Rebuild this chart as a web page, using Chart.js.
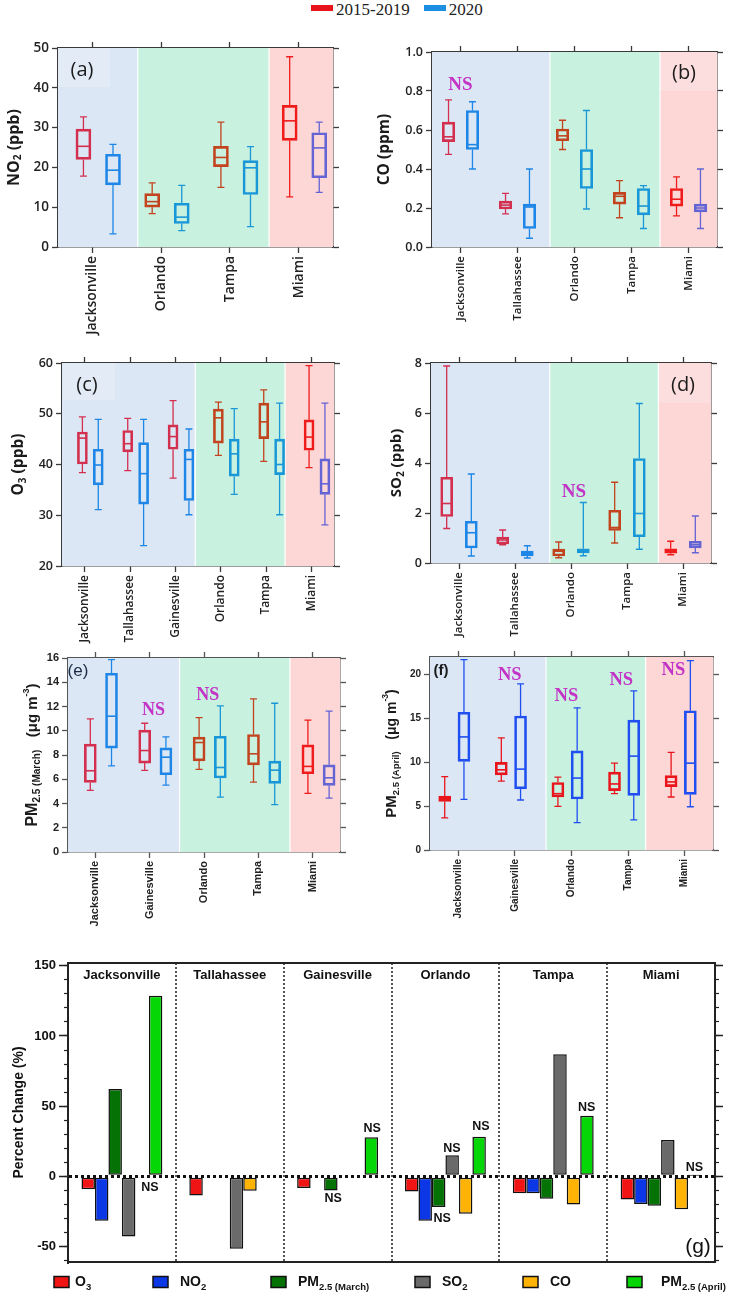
<!DOCTYPE html>
<html>
<head>
<meta charset="utf-8">
<script src="https://cdn.jsdelivr.net/npm/chart.js@4.4.0/dist/chart.umd.min.js"></script>
<style>
  body { margin: 0; background: #fff; width: 734px; height: 1295px; position: relative; overflow: hidden; }
  canvas { position: absolute; }
  #topLegend { position: absolute; left: 311px; top: 1px; font: 17px "Liberation Serif", "Times New Roman", serif; color: #222; white-space: nowrap; line-height: 18px; }
  #topLegend .sw { display: inline-block; width: 22px; height: 6px; vertical-align: 4px; margin-right: 3px; }
  #topLegend .gap { display: inline-block; width: 14px; }
</style>
</head>
<body>
<div id="topLegend"></div>
<script>
// ---- data -------------------------------------------------------------
const seriesNames = ['2015-2019', '2020'];

// five-number summaries per city: [min, q1, median, q3, max]
const citiesA = ['Jacksonville', 'Orlando', 'Tampa', 'Miami'];
const no2Base = [[17.8, 22.0, 25.3, 29.6, 32.7], [8.4, 10.0, 11.4, 13.4, 16.1], [15.0, 20.2, 22.5, 25.3, 31.4], [12.6, 26.8, 31.7, 35.6, 47.8]];
const no2Now  = [[3.3, 15.6, 19.3, 23.3, 25.8], [4.1, 5.9, 7.5, 11.0, 15.5], [5.1, 13.2, 19.9, 21.7, 25.2], [13.7, 17.4, 24.9, 28.7, 31.4]];
const no2Ticks = [0, 10, 20, 30, 40, 50];

const citiesB = ['Jacksonville', 'Tallahassee', 'Orlando', 'Tampa', 'Miami'];
const coBase = [[0.475, 0.54, 0.565, 0.64, 0.755], [0.17, 0.195, 0.215, 0.235, 0.275], [0.50, 0.545, 0.57, 0.605, 0.65], [0.15, 0.22, 0.26, 0.28, 0.34], [0.16, 0.21, 0.245, 0.30, 0.36]];
const coNow  = [[0.40, 0.50, 0.525, 0.70, 0.745], [0.045, 0.095, 0.205, 0.22, 0.40], [0.195, 0.30, 0.40, 0.50, 0.70], [0.095, 0.165, 0.21, 0.30, 0.315], [0.095, 0.18, 0.20, 0.22, 0.40]];
const coTicks = [0, 0.2, 0.4, 0.6, 0.8, 1.0];

const citiesC = ['Jacksonville', 'Tallahassee', 'Gainesville', 'Orlando', 'Tampa', 'Miami'];
const o3Base = [[38.4, 40.1, 45.2, 46.4, 49.4], [38.8, 42.5, 44.1, 46.7, 49.1], [37.3, 43.0, 45.5, 47.8, 52.6], [41.8, 44.2, 49.2, 50.9, 52.3], [40.6, 45.1, 48.4, 52.1, 54.7], [39.4, 42.8, 45.4, 48.8, 59.5]];
const o3Now  = [[31.1, 36.0, 39.9, 43.0, 48.9], [24.0, 32.2, 38.2, 44.3, 48.9], [30.1, 32.9, 41.0, 43.0, 47.0], [34.1, 37.7, 42.1, 45.0, 51.0], [30.1, 38.0, 40.0, 45.0, 52.1], [28.1, 34.1, 36.2, 41.1, 52.1]];
const o3Ticks = [20, 30, 40, 50, 60];

const citiesD = ['Jacksonville', 'Tallahassee', 'Orlando', 'Tampa', 'Miami'];
const so2Base = [[1.38, 1.86, 2.38, 3.43, 7.88], [0.73, 0.76, 0.92, 1.04, 1.32], [0.21, 0.28, 0.47, 0.56, 0.84], [0.80, 1.30, 1.42, 2.11, 3.23], [0.33, 0.39, 0.50, 0.57, 0.87]];
const so2Now  = [[0.28, 0.60, 1.21, 1.67, 3.56], [0.20, 0.28, 0.37, 0.48, 0.69], [0.29, 0.40, 0.49, 0.57, 2.42], [0.55, 1.05, 1.98, 4.18, 6.38], [0.41, 0.60, 0.73, 0.87, 1.88]];
const so2Ticks = [0, 2, 4, 6, 8];

const citiesE = ['Jacksonville', 'Gainesville', 'Orlando', 'Tampa', 'Miami'];
const pmMarBase = [[5.08, 5.74, 6.70, 8.90, 10.98], [6.73, 7.33, 8.37, 10.05, 10.62], [6.81, 7.52, 9.03, 9.47, 11.09], [5.77, 7.19, 8.10, 9.69, 12.63], [4.83, 6.45, 7.06, 8.84, 10.87]];
const pmMarNow  = [[7.11, 8.57, 11.20, 14.74, 15.86], [5.52, 6.37, 7.82, 8.59, 9.50], [4.53, 6.10, 6.97, 9.55, 12.05], [3.90, 5.66, 6.75, 7.50, 12.27], [4.45, 5.49, 6.12, 7.19, 11.62]];
const pmMarTicks = [0, 2, 4, 6, 8, 10, 12, 14, 16];

const citiesF = ['Jacksonville', 'Gainesville', 'Orlando', 'Tampa', 'Miami'];
const pmAprBase = [[3.67, 5.54, 5.85, 6.15, 8.37], [7.84, 8.56, 9.14, 9.98, 12.77], [4.97, 6.04, 6.42, 7.69, 8.30], [6.42, 6.77, 7.53, 8.87, 9.90], [6.04, 7.22, 7.76, 8.48, 11.13]];
const pmAprNow  = [[5.77, 10.1, 12.89, 15.7, 21.7], [5.70, 6.96, 9.22, 15.27, 18.94], [3.13, 5.81, 8.20, 11.3, 16.2], [3.44, 6.23, 10.7, 14.81, 18.13], [4.93, 6.34, 9.90, 15.87, 21.58]];
const pmAprTicks = [0, 5, 10, 15, 20];

// (g) percent change 2020 vs 2015-2019
const citiesG = ['Jacksonville', 'Tallahassee', 'Gainesville', 'Orlando', 'Tampa', 'Miami'];
const pollutants = ['O3', 'NO2', 'PM2.5 (March)', 'SO2', 'CO', 'PM2.5 (April)'];
const o3Change      = [-9.1, -13.6, -8.3, -10.7, -12.1, -16.4];
const no2Change     = [-31.6, null, null, -31.6, -12.1, -19.7];
const pmMarchChange = [62.2, null, -10.0, -21.9, -16.0, -20.9];
const so2Change     = [-42.9, -51.5, null, 15.1, 87.0, 25.9];
const coChange      = [-0.8, -10.2, null, -26.6, -20.0, -23.5];
const pmAprilChange = [128.7, null, 27.8, 28.3, 43.1, 0.4];
const changeTicks = [-50, 0, 50, 100, 150];

// ---- styles ------------------------------------------------------------
const OS = '"Open Sans", "DejaVu Sans", sans-serif';
const AR = '"Liberation Sans", Arial, sans-serif';
const regionFill = ['#dce7f5', '#c8f1e0', '#fdd6d6'];
const redByRegion = ['#d3304f', '#c2441f', '#f01c1c'];
const blueByRegion = ['#1e86e6', '#1a97d6', '#6464d4'];
const nsColor = '#c233c6';

document.getElementById('topLegend').innerHTML =
  '<span class="sw" style="background:#e8141a"></span>' + seriesNames[0] +
  '<span class="gap"></span><span class="sw" style="background:#1a8fe3"></span>' + seriesNames[1];

function drawRich(ctx, parts, x, y, rot, align) {
  ctx.save();
  ctx.translate(x, y);
  ctx.rotate(rot || 0);
  ctx.textBaseline = 'middle';
  ctx.textAlign = 'left';
  let w = 0;
  parts.forEach(p => { ctx.font = p.f; w += ctx.measureText(p.t).width; });
  let cx = align === 'left' ? 0 : -w / 2;
  parts.forEach(p => {
    ctx.font = p.f;
    ctx.fillText(p.t, cx, p.dy || 0);
    cx += ctx.measureText(p.t).width;
  });
  ctx.restore();
}

const boxPlugin = {
  id: 'boxes',
  beforeDatasetsDraw(chart) {
    const p = chart.options.plugins.boxes;
    const { ctx, chartArea: a } = chart;
    const xs = chart.scales.x;
    const edges = [xs.min, ...p.bounds, xs.max];
    ctx.save();
    for (let i = 0; i < edges.length - 1; i++) {
      const x0 = xs.getPixelForValue(edges[i]), x1 = xs.getPixelForValue(edges[i + 1]);
      ctx.fillStyle = regionFill[i];
      ctx.fillRect(x0, a.top, x1 - x0, a.bottom - a.top);
    }
    ctx.fillStyle = '#fff';
    p.bounds.forEach(b => ctx.fillRect(xs.getPixelForValue(b) - 0.6, a.top, 1.2, a.bottom - a.top));
    if (p.hl) {
      ctx.fillStyle = 'rgba(255,255,255,0.2)';
      ctx.fillRect(p.hl[0] - p.off[0], p.hl[1] - p.off[1], p.hl[2] - p.hl[0], p.hl[3] - p.hl[1]);
    }
    ctx.restore();
  },
  afterDatasetsDraw(chart) {
    const p = chart.options.plugins.boxes;
    const { ctx } = chart;
    const ys = chart.scales.y, xs = chart.scales.x;
    const py = v => ys.getPixelForValue(v);
    chart.data.datasets.forEach((ds, di) => {
      chart.getDatasetMeta(di).data.forEach((bar, i) => {
        const [mn, q1, md, q3, mx] = ds.summary[i];
        const x = bar.x, hw = bar.width / 2;
        ctx.save();
        ctx.strokeStyle = bar.options.borderColor;
        ctx.lineWidth = 1.3;
        ctx.beginPath();
        ctx.moveTo(x, py(q3)); ctx.lineTo(x, py(mx));
        ctx.moveTo(x, py(q1)); ctx.lineTo(x, py(mn));
        ctx.moveTo(x - 3.5, py(mx)); ctx.lineTo(x + 3.5, py(mx));
        ctx.moveTo(x - 3.5, py(mn)); ctx.lineTo(x + 3.5, py(mn));
        ctx.stroke();
        ctx.lineWidth = 1.6;
        ctx.beginPath();
        ctx.moveTo(x - hw + 1, py(md)); ctx.lineTo(x + hw - 1, py(md));
        ctx.stroke();
        ctx.restore();
      });
    });
    // NS marks
    ctx.save();
    ctx.fillStyle = nsColor;
    ctx.font = 'bold ' + p.nsSize + 'px "Liberation Serif", "Times New Roman", serif';
    ctx.textAlign = 'center';
    ctx.textBaseline = 'middle';
    p.ns.forEach(([xv, yv]) => ctx.fillText('NS', xs.getPixelForValue(xv), py(yv)));
    ctx.restore();
  },
  afterDraw(chart) {
    const p = chart.options.plugins.boxes;
    const { ctx } = chart;
    ctx.save();
    ctx.fillStyle = '#1b1b1b';
    drawRich(ctx, p.title, p.titleX - p.off[0], p.titleY - p.off[1], -Math.PI / 2);
    ctx.fillStyle = p.labelColor || '#1b1b1b';
    ctx.font = p.labelFont;
    ctx.textAlign = 'center';
    ctx.textBaseline = 'middle';
    ctx.fillText(p.label, p.labelPos[0] - p.off[0], p.labelPos[1] - p.off[1]);
    ctx.restore();
  }
};

function boxPanel(p) {
  const [cl, ct, cw, ch] = p.box;
  const [L, T, R, B] = p.area;
  const cv = document.createElement('canvas');
  cv.width = cw; cv.height = ch;
  cv.style.left = cl + 'px'; cv.style.top = ct + 'px';
  document.body.appendChild(cv);
  const n = p.cities.length;
  const regionOf = x => { let r = 0; while (r < p.bounds.length && x > p.bounds[r]) r++; return r; };
  const mk = (summ, shift, cols, label) => ({
    label,
    summary: summ,
    data: summ.map((s, i) => ({ x: i + shift, y: [s[1], s[3]] })),
    borderColor: summ.map((s, i) => p.fixed ? cols[0] : cols[regionOf(i + shift)]),
    backgroundColor: 'rgba(0,0,0,0)',
    borderWidth: 2,
    borderSkipped: false,
    barThickness: p.boxW,
    grouped: false
  });
  const axisCol = p.axisColor || '#3a3a3a';
  const tickFont = p.tickFont;
  const xTicks = s => { s.ticks = p.cities.map((c, i) => ({ value: i })); };
  const yTicks = s => { s.ticks = p.yTicks.map(v => ({ value: v })); };
  const grid = { drawOnChartArea: false, tickLength: 6, tickColor: axisCol, tickWidth: 1.3, offset: false };
  const border = { color: axisCol, width: 1.5 };
  new Chart(cv, {
    type: 'bar',
    data: {
      datasets: [
        mk(p.base, p.redShift, p.fixed ? [p.fixed[0]] : redByRegion, seriesNames[0]),
        mk(p.now, p.blueShift, p.fixed ? [p.fixed[1]] : blueByRegion, seriesNames[1])
      ]
    },
    options: {
      responsive: false,
      animation: false,
      layout: { padding: { left: 0, top: T - ct - 6, right: cl + cw - R - 6, bottom: 0 } },
      plugins: {
        legend: { display: false },
        tooltip: { enabled: false },
        boxes: {
          bounds: p.bounds, hl: p.hl, off: [cl, ct], ns: p.ns || [], nsSize: p.nsSize || 18,
          title: p.title, titleX: p.titleX, titleY: (T + B) / 2,
          label: p.label, labelPos: p.labelPos, labelFont: p.labelFont, labelColor: p.labelColor
        }
      },
      scales: {
        x: {
          type: 'linear', position: 'bottom', min: -0.5, max: n - 0.5, offset: false,
          afterBuildTicks: xTicks,
          afterFit: s => { s.height = ct + ch - B; },
          ticks: { autoSkip: false, minRotation: 90, maxRotation: 90, padding: 3, color: '#222', font: p.xFont,
                   callback: (v, i) => p.cities[i] },
          grid, border
        },
        x2: {
          type: 'linear', position: 'top', min: -0.5, max: n - 0.5, offset: false,
          afterBuildTicks: xTicks,
          afterFit: s => { s.height = 6; },
          ticks: { display: false },
          grid, border
        },
        y: {
          type: 'linear', position: 'left', min: p.yRange[0], max: p.yRange[1],
          afterBuildTicks: yTicks,
          afterFit: s => { s.width = L - cl; },
          ticks: { padding: 3, color: '#222', font: tickFont, callback: v => p.fmt ? p.fmt(v) : v },
          grid, border
        },
        y2: {
          type: 'linear', position: 'right', min: p.yRange[0], max: p.yRange[1],
          afterBuildTicks: yTicks,
          afterFit: s => { s.width = 6; },
          ticks: { display: false },
          grid, border
        }
      }
    },
    plugins: [boxPlugin]
  });
}

const tf = (w, s, fam) => ({ family: fam, size: s, weight: w });
const sub = (t, size, fam, dy) => ({ t, f: 'bold ' + size + 'px ' + fam, dy });

boxPanel({
  box: [0, 30, 367, 315], area: [58, 48, 333, 247],
  cities: citiesA, base: no2Base, now: no2Now, yTicks: no2Ticks, yRange: [0, 50],
  redShift: -0.13, blueShift: 0.30, boxW: 15, bounds: [0.66, 2.57],
  tickFont: tf('600', 13.5, OS), xFont: tf('600', 14, OS),
  title: [sub('NO', 16, OS), sub('2', 10, OS, 4), sub(' (ppb)', 16, OS)], titleX: 14,
  label: '(a)', labelPos: [82, 70], labelFont: '20px ' + OS, hl: [58, 48, 110, 87]
});
boxPanel({
  box: [367, 30, 367, 315], area: [432, 52, 717, 247],
  cities: citiesB, base: coBase, now: coNow, yTicks: coTicks, yRange: [0, 1], fmt: v => v.toFixed(1),
  redShift: -0.21, blueShift: 0.21, boxW: 12.5, bounds: [1.57, 3.5],
  tickFont: tf('600', 12.5, OS), xFont: tf('600', 11.5, OS),
  title: [sub('CO (ppm)', 15.5, OS)], titleX: 385,
  label: '(b)', labelPos: [684, 73], labelFont: '20px ' + OS, hl: [660, 52, 717, 91],
  ns: [[0, 0.83]], nsSize: 19
});
boxPanel({
  box: [0, 345, 367, 305], area: [62, 363, 334, 566],
  cities: citiesC, base: o3Base, now: o3Now, yTicks: o3Ticks, yRange: [20, 60],
  redShift: -0.05, blueShift: 0.30, boxW: 10, bounds: [2.44, 4.42],
  tickFont: tf('600', 12.5, OS), xFont: tf('600', 12, OS),
  title: [sub('O', 15.5, OS), sub('3', 10, OS, 4), sub(' (ppb)', 15.5, OS)], titleX: 19,
  label: '(c)', labelPos: [87, 385], labelFont: '20px ' + OS, hl: [63, 363, 115, 400]
});
boxPanel({
  box: [367, 345, 367, 305], area: [431, 363, 711, 563],
  cities: citiesD, base: so2Base, now: so2Now, yTicks: so2Ticks, yRange: [0, 8],
  redShift: -0.22, blueShift: 0.22, boxW: 12, bounds: [1.62, 3.56],
  tickFont: tf('600', 12.5, OS), xFont: tf('600', 11.5, OS),
  title: [sub('SO', 15, OS), sub('2', 10, OS, 4), sub(' (ppb)', 15, OS)], titleX: 397,
  label: '(d)', labelPos: [683, 385], labelFont: '20px ' + OS, hl: [658, 363, 710, 403],
  ns: [[2.05, 2.85]], nsSize: 19
});
boxPanel({
  box: [0, 640, 367, 315], area: [68, 658, 340, 852],
  cities: citiesE, base: pmMarBase, now: pmMarNow, yTicks: pmMarTicks, yRange: [0, 16],
  redShift: -0.09, blueShift: 0.30, boxW: 12, bounds: [1.55, 3.58], axisColor: '#555',
  tickFont: tf('bold', 11, AR), xFont: tf('bold', 11, AR),
  title: [sub('PM', 16, AR), sub('2.5 (March)', 10, AR, 4), sub('   (\u03bcg m', 15, AR), sub('-3', 9, AR, -6), sub(')', 15, AR)],
  titleX: 33,
  label: '(e)', labelPos: [78, 671], labelFont: '17px ' + AR, labelColor: '#1a2a44',
  ns: [[1.07, 11.7], [2.07, 12.9]], nsSize: 18
});
boxPanel({
  box: [367, 640, 367, 315], area: [430, 657, 713, 850],
  cities: citiesF, base: pmAprBase, now: pmAprNow, yTicks: pmAprTicks, yRange: [0, 22],
  redShift: -0.24, blueShift: 0.10, boxW: 12, bounds: [1.55, 3.31], axisColor: '#555',
  fixed: ['#e8161c', '#1f4ff0'],
  tickFont: tf('bold', 10, AR), xFont: tf('bold', 10, AR),
  title: [sub('PM', 15, AR), sub('2.5 (April)', 9.5, AR, 4), sub('   (\u03bcg m', 14, AR), sub('-3', 8.5, AR, -6), sub(')', 14, AR)],
  titleX: 392,
  label: '(f)', labelPos: [441, 671], labelFont: 'bold 15px ' + AR,
  ns: [[0.91, 19.9], [1.91, 17.5], [2.88, 19.4], [3.8, 20.5]], nsSize: 18.5
});

// ---- (g) percent change bars -----------------------------------------------
const barColors = ['#f01414', '#0b37e6', '#057205', '#6a6a6a', '#ffb305', '#05d605'];
const changeSeries = [o3Change, no2Change, pmMarchChange, so2Change, coChange, pmAprilChange];
const legendParts = [['O', '3'], ['NO', '2'], ['PM', '2.5 (March)'], ['SO', '2'], ['CO', ''], ['PM', '2.5 (April)']];
const legendX = [[54, 75], [153, 180], [271, 298], [415, 442], [523, 550], [627, 661]];
const nsG = [[0.26, -8.3], [1.96, -16.1], [2.97, -29.7], [3.06, 20.1], [3.33, 35.5], [2.32, 34.3], [4.31, 49], [5.31, 6.3]];

const gBox = [0, 950, 734, 345];
const gArea = [68, 963, 715, 1262];

const gPlugin = {
  id: 'gExtras',
  afterDatasetsDraw(chart) {
    const { ctx, chartArea: a, scales: { x, y } } = chart;
    const oy = gBox[1];
    ctx.save();
    ctx.fillStyle = '#111';
    ctx.textAlign = 'center';
    ctx.textBaseline = 'middle';
    ctx.font = 'bold 13px ' + AR;
    citiesG.forEach((c, i) => ctx.fillText(c, x.getPixelForValue(i), a.top + 12));
    ctx.font = 'bold 12.5px ' + AR;
    nsG.forEach(([xv, yv]) => ctx.fillText('NS', x.getPixelForValue(xv), y.getPixelForValue(yv)));
    ctx.font = '21px ' + AR;
    ctx.fillText('(g)', 698, 1247 - oy);
    // legend
    legendParts.forEach((lp, k) => {
      const [sx, tx] = legendX[k];
      const cy = 1282 - oy;
      ctx.fillStyle = barColors[k];
      ctx.fillRect(sx, cy - 5.5, 15, 11);
      ctx.strokeStyle = '#111';
      ctx.lineWidth = 1.5;
      ctx.strokeRect(sx, cy - 5.5, 15, 11);
      ctx.fillStyle = '#111';
      drawRich(ctx, [{ t: lp[0], f: 'bold 14px ' + AR }, { t: lp[1], f: 'bold 9.5px ' + AR, dy: 5 }], tx, cy, 0, 'left');
    });
    ctx.restore();
  }
};

(function () {
  const [cl, ct, cw, ch] = gBox;
  const [L, T, R, B] = gArea;
  const cv = document.createElement('canvas');
  cv.width = cw; cv.height = ch;
  cv.style.left = cl + 'px'; cv.style.top = ct + 'px';
  document.body.appendChild(cv);
  const yMin = -61, yMax = 152;
  const majors = s => { s.ticks = changeTicks.map(v => ({ value: v })); };
  const minors = s => { s.ticks = []; for (let v = -60; v <= 150; v += 10) s.ticks.push({ value: v }); };
  const last = citiesG.length;
  new Chart(cv, {
    type: 'bar',
    data: {
      labels: citiesG,
      datasets: pollutants.map((name, k) => ({
        label: name,
        data: changeSeries[k],
        backgroundColor: barColors[k],
        borderColor: '#111',
        borderWidth: 1.5,
        borderSkipped: false,
        categoryPercentage: 0.75,
        barPercentage: 1
      }))
    },
    options: {
      responsive: false,
      animation: false,
      layout: { padding: { left: 0, top: T - ct, right: cl + cw - R - 8, bottom: ct + ch - B } },
      plugins: { legend: { display: false }, tooltip: { enabled: false } },
      scales: {
        x: {
          type: 'category', position: 'bottom', offset: true,
          afterFit: s => { s.height = 0; },
          ticks: { display: false },
          grid: { offset: true, drawTicks: false, lineWidth: 2,
                  color: c => (c.index === 0 || c.index === last) ? 'rgba(0,0,0,0)' : '#555' },
          border: { display: true, color: '#222', width: 2, dash: [2, 2] }
        },
        x2: {
          type: 'category', position: 'top', offset: true,
          afterFit: s => { s.height = 0; },
          ticks: { display: false },
          grid: { display: false },
          border: { display: true, color: '#222', width: 2 }
        },
        y: {
          position: 'left', weight: 1, min: yMin, max: yMax,
          afterBuildTicks: majors,
          afterFit: s => { s.width = L - cl; },
          ticks: { padding: 3, color: '#111', font: { family: AR, size: 13, weight: 'bold' } },
          grid: { drawOnChartArea: true, tickLength: 9, tickColor: '#222', tickWidth: 1.5, lineWidth: 3,
                  color: c => (c.tick && c.tick.value === 0) ? '#111' : 'rgba(0,0,0,0)' },
          border: { display: true, color: '#222', width: 2, dash: [3, 3] },
          title: { display: true, text: 'Percent Change (%)', color: '#111', padding: { top: 11, bottom: 0 },
                   font: { family: AR, size: 14, weight: 'bold' } }
        },
        yMinor: {
          position: 'left', weight: 0, min: yMin, max: yMax,
          afterBuildTicks: minors,
          afterFit: s => { s.width = 0; },
          ticks: { display: false },
          grid: { drawOnChartArea: false, tickLength: 4, tickColor: '#222', tickWidth: 1.2 },
          border: { display: false }
        },
        y2: {
          position: 'right', weight: 1, min: yMin, max: yMax,
          afterBuildTicks: majors,
          afterFit: s => { s.width = 8; },
          ticks: { display: false },
          grid: { drawOnChartArea: false, tickLength: 8, tickColor: '#222', tickWidth: 1.5 },
          border: { display: true, color: '#222', width: 2 }
        },
        y2Minor: {
          position: 'right', weight: 0, min: yMin, max: yMax,
          afterBuildTicks: minors,
          afterFit: s => { s.width = 0; },
          ticks: { display: false },
          grid: { drawOnChartArea: false, tickLength: 4, tickColor: '#222', tickWidth: 1.2 },
          border: { display: false }
        }
      }
    },
    plugins: [gPlugin]
  });
})();
</script>
</body>
</html>
